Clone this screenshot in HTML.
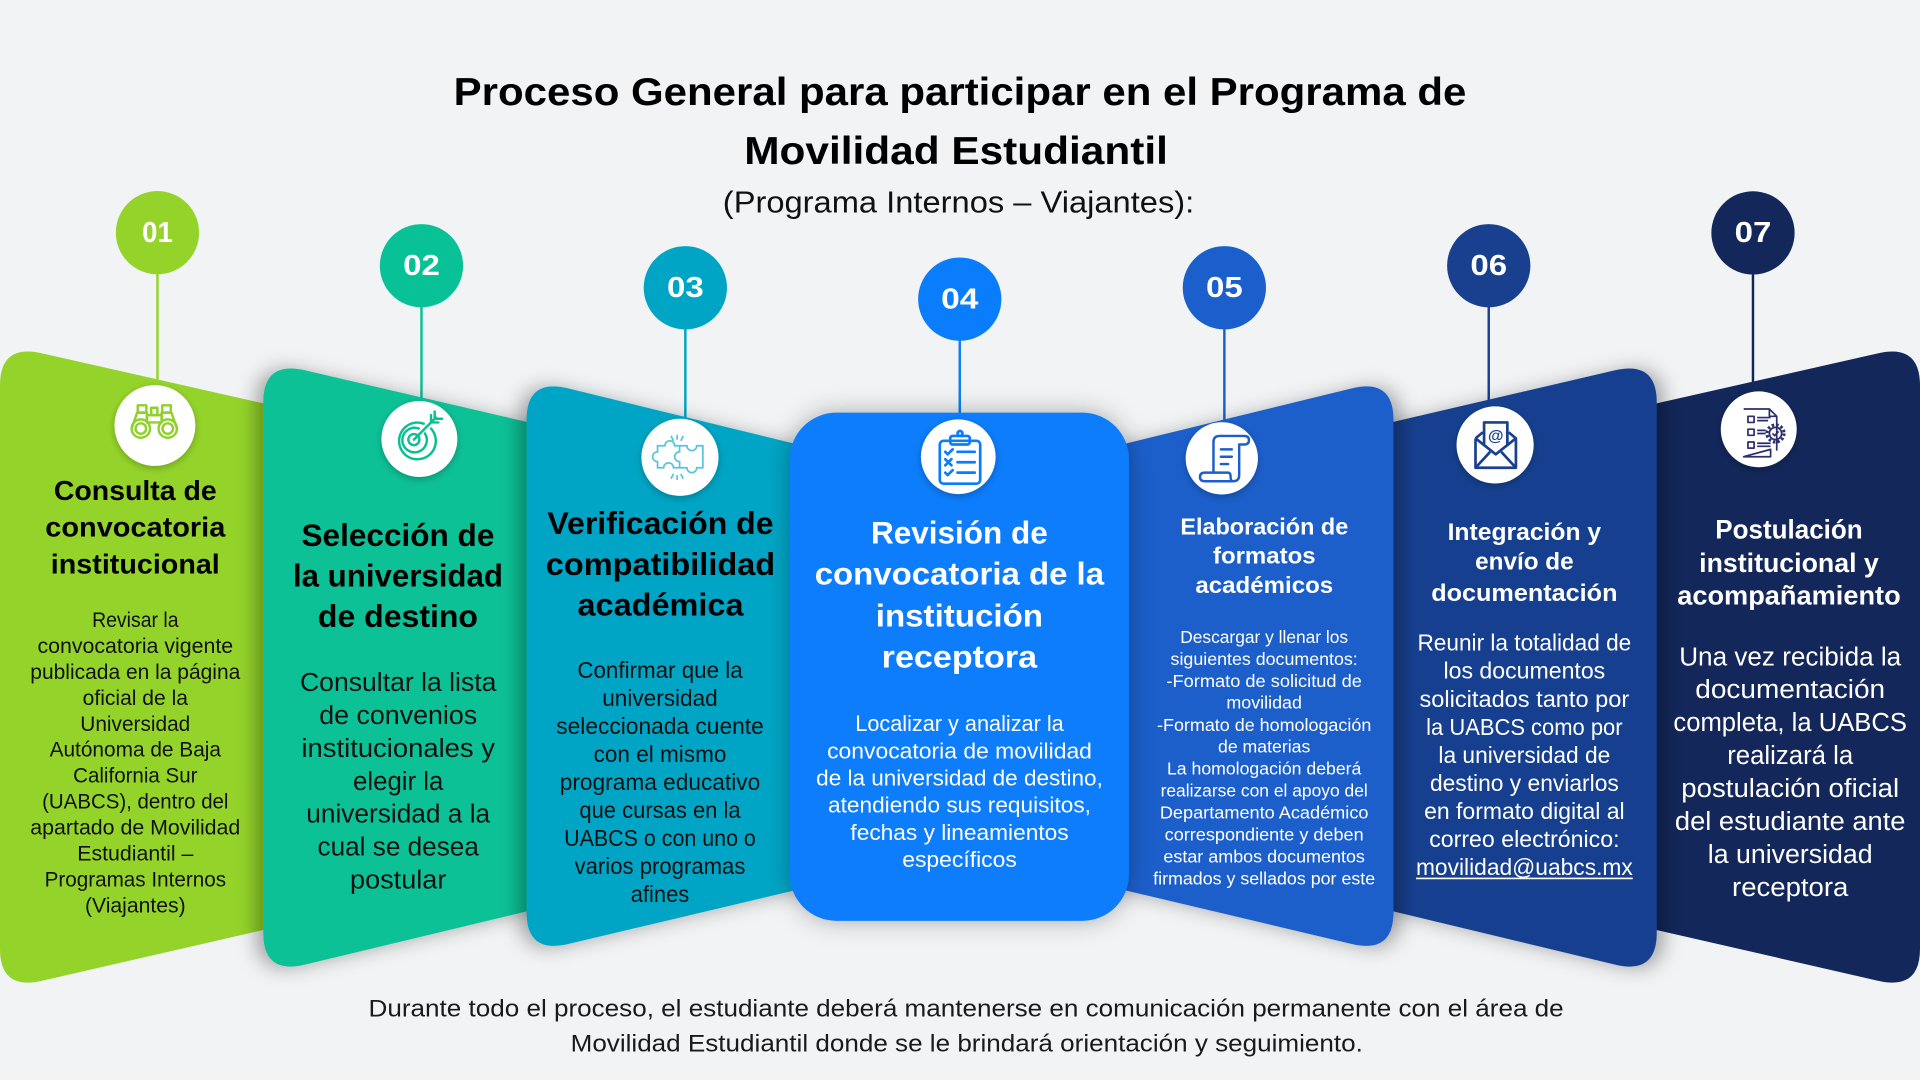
<!DOCTYPE html>
<html>
<head>
<meta charset="utf-8">
<style>
html,body{margin:0;padding:0;background:#f1f3f5;overflow:hidden;width:1920px;height:1080px}
svg{display:block}
</style>
</head>
<body>
<svg xmlns="http://www.w3.org/2000/svg" width="1920" height="1080" viewBox="0 0 1568 882" font-family="'Liberation Sans', Arial, sans-serif">
<defs>
<filter id="shL" x="-20%" y="-10%" width="140%" height="120%"><feDropShadow dx="-6" dy="1" stdDeviation="8" flood-color="#000" flood-opacity="0.33"/></filter>
<filter id="shR" x="-20%" y="-10%" width="140%" height="120%"><feDropShadow dx="6" dy="1" stdDeviation="8" flood-color="#000" flood-opacity="0.33"/></filter>
<filter id="shC" x="-30%" y="-20%" width="160%" height="140%"><feDropShadow dx="0" dy="0" stdDeviation="10" flood-color="#000" flood-opacity="0.3"/></filter>
<filter id="shI" x="-30%" y="-30%" width="160%" height="160%"><feDropShadow dx="0" dy="2" stdDeviation="3" flood-color="#000" flood-opacity="0.25"/></filter>
</defs>

<rect x="0" y="0" width="1568" height="882" fill="#f1f3f5"/>

<!-- Title -->
<g fill="#000" font-weight="bold" text-anchor="middle">
<text x="784" y="85.7" font-size="32" textLength="827" lengthAdjust="spacingAndGlyphs">Proceso General para participar en el Programa de</text>
<text x="780.8" y="134" font-size="32" textLength="346" lengthAdjust="spacingAndGlyphs">Movilidad Estudiantil</text>
</g>
<text x="782.8" y="173.5" font-size="25" text-anchor="middle" fill="#111" textLength="385" lengthAdjust="spacingAndGlyphs">(Programa Internos – Viajantes):</text>

<!-- Connector lines -->
<g stroke-width="2">
<line x1="128.6" y1="222" x2="128.6" y2="330" stroke="#94d42a"/>
<line x1="344.2" y1="249" x2="344.2" y2="345" stroke="#09c196"/>
<line x1="559.7" y1="267" x2="559.7" y2="362" stroke="#00a5c5"/>
<line x1="783.8" y1="276" x2="783.8" y2="360" stroke="#0a7dfc"/>
<line x1="999.9" y1="267" x2="999.9" y2="362" stroke="#1a5fcb"/>
<line x1="1215.8" y1="249" x2="1215.8" y2="345" stroke="#19408f"/>
<line x1="1431.6" y1="222" x2="1431.6" y2="330" stroke="#13275a"/>
</g>

<!-- Number circles -->
<g>
<circle cx="128.6" cy="190" r="34" fill="#94d42a"/>
<circle cx="344.2" cy="217" r="34" fill="#09c196"/>
<circle cx="559.7" cy="235" r="34" fill="#00a5c5"/>
<circle cx="783.8" cy="244.3" r="34" fill="#0a7dfc"/>
<circle cx="999.9" cy="235" r="34" fill="#1a5fcb"/>
<circle cx="1215.8" cy="217" r="34" fill="#19408f"/>
<circle cx="1431.6" cy="190.2" r="34" fill="#13275a"/>
</g>
<g fill="#fff" font-weight="bold" font-size="23.5" text-anchor="middle">
<text x="128.6" y="197.5" textLength="25" lengthAdjust="spacingAndGlyphs">01</text>
<text x="344.2" y="224.5" textLength="30" lengthAdjust="spacingAndGlyphs">02</text>
<text x="559.7" y="242.5" textLength="30" lengthAdjust="spacingAndGlyphs">03</text>
<text x="783.8" y="251.8" textLength="30.5" lengthAdjust="spacingAndGlyphs">04</text>
<text x="999.9" y="242.5" textLength="30" lengthAdjust="spacingAndGlyphs">05</text>
<text x="1215.8" y="224.5" textLength="30" lengthAdjust="spacingAndGlyphs">06</text>
<text x="1431.6" y="197.7" textLength="30" lengthAdjust="spacingAndGlyphs">07</text>
</g>

<!-- Panels -->
<path d="M0,314.8 Q0,280.8 34,288.5 L250,337.3 L250,751.5 L34,801 Q0,808.8 0,774.8 Z" fill="#94d42a"/>
<path d="M1568,314.8 Q1568,280.8 1534,288.5 L1318,337.3 L1318,751.5 L1534,801 Q1568,808.8 1568,774.8 Z" fill="#13275a"/>
<path d="M215,328.5 Q215,294.5 249,302.4 L465,352.7 L465,735.9 L249,787.8 Q215,796 215,762 Z" fill="#09c196" filter="url(#shL)"/>
<path d="M1353,328.5 Q1353,294.5 1319,302.4 L1103,352.7 L1103,735.9 L1319,787.8 Q1353,796 1353,762 Z" fill="#19408f" filter="url(#shR)"/>
<path d="M430,342.9 Q430,308.9 464,317.2 L680,369.9 L680,719.8 L464,770.9 Q430,779 430,745 Z" fill="#00a5c5" filter="url(#shL)"/>
<path d="M1138,342.9 Q1138,308.9 1104,317.2 L888,369.9 L888,719.8 L1104,770.9 Q1138,779 1138,745 Z" fill="#1a5fcb" filter="url(#shR)"/>
<rect x="645" y="337" width="277" height="415" rx="38" ry="38" fill="#0a7dfc" filter="url(#shC)"/>

<!-- Icon circles -->
<g fill="#fff" filter="url(#shI)">
<circle cx="126.5" cy="347.5" r="33"/>
<circle cx="342.5" cy="358.5" r="31"/>
<circle cx="555.3" cy="373.5" r="31.5"/>
<circle cx="782.6" cy="373" r="30.5"/>
<circle cx="997.8" cy="374.3" r="29.5"/>
<circle cx="1221" cy="363.4" r="31.5"/>
<circle cx="1436.3" cy="350.6" r="31"/>
</g>

<!-- Icon 1 binoculars -->
<g fill="none" stroke="#8fd12a" stroke-width="2" stroke-linejoin="round">
<circle cx="115" cy="350" r="7.5"/><circle cx="115" cy="350" r="4.3"/>
<circle cx="137" cy="350" r="7.5"/><circle cx="137" cy="350" r="4.3"/>
<path d="M107.5,350 L112,337 H120 V343 M144.5,350 L140,337 H132 V343"/>
<rect x="112.5" y="331" width="7" height="6"/>
<rect x="132.5" y="331" width="7" height="6"/>
<rect x="120" y="339" width="12" height="6"/>
<rect x="123.5" y="333" width="5" height="6"/>
</g>

<!-- Icon 2 target -->
<g fill="none" stroke="#0bbf94" stroke-width="2" stroke-linecap="round">
<path d="M352,350 A15,15 0 1 1 346,346"/>
<path d="M347,354 A10,10 0 1 1 342,350"/>
<circle cx="338" cy="359" r="4.5"/>
<path d="M338,359 L356,341"/>
<path d="M352,339 L352,345 L358,345 M355,336 L355,342 L361,342"/>
</g>

<!-- Icon 3 puzzle -->
<g fill="none" stroke="#58c4dd" stroke-width="1.4">
<path d="M537,364 H543 a4,4 0 1 1 8,0 H555 V369 a4,4 0 1 0 0,8 V382 H550 a4,4 0 1 0 -8,0 H537 V377 a4,4 0 1 1 0,-8 Z"/>
<path d="M555,364 H561 a4,4 0 1 0 8,0 H574 V382 H569 a4,4 0 1 1 -8,0 H555"/>
<path d="M553,355 V359 M548,356 L550,360 M558,356 L556,360 M553,388 V392 M548,391 L550,387 M558,391 L556,387"/>
</g>

<!-- Icon 4 clipboard -->
<g fill="none" stroke="#0a7dfc" stroke-width="2.2" stroke-linecap="round" stroke-linejoin="round">
<rect x="767.5" y="360" width="33" height="35" rx="3"/>
<rect x="776" y="356" width="16" height="7" rx="2"/>
<circle cx="784" cy="354" r="2"/>
<path d="M772,369 l2,2 l4,-4 M772,375 l5,5 M777,375 l-5,5 M772,386 l2,2 l4,-4"/>
<path d="M782,369 H796 M782,377.5 H796 M782,386 H796"/>
</g>

<!-- Icon 5 scroll -->
<g fill="none" stroke="#1a5fcb" stroke-width="2" stroke-linejoin="round" stroke-linecap="round">
<path d="M991,386 V361 q0,-5 5,-5 H1016 q4,0 4,3.5 q0,3.5 -4,3.5 H1012 V388 q0,5 -5,5 H984 q-4,0 -4,-3.5 q0,-3.5 4,-3.5 H1003 q2,0 2,3.5 q0,3.5 2,3.5"/>
<path d="M997,367 H1006 M997,373 H1006 M997,379 H1003"/>
</g>

<!-- Icon 6 envelope -->
<g fill="none" stroke="#19408f" stroke-width="2.2" stroke-linejoin="round">
<path d="M1212,364 V345 H1231 V364"/>
<path d="M1205,358 V382 H1238 V358 L1232,353 M1205,358 L1211,353"/>
<path d="M1205,358 L1221.5,371 L1238,358 M1205,382 L1217,369 M1238,382 L1226,369"/>
</g>
<text x="1221.5" y="360" font-size="13" font-weight="bold" fill="#19408f" text-anchor="middle">@</text>

<!-- Icon 7 doc with gear -->
<g fill="none" stroke="#2b2f6e" stroke-width="1.4" stroke-linejoin="round">
<path d="M1424,334 H1445 L1451,340 V368 M1446,367 V373 H1424 Z"/>
<path d="M1445,334 V340 H1451"/>
<rect x="1427.5" y="340" width="5" height="5"/>
<rect x="1427.5" y="350.5" width="5" height="5"/>
<rect x="1427.5" y="361" width="5" height="5"/>
<path d="M1435,341 H1446 M1435,343.5 H1444 M1435,351.5 H1442 M1435,354 H1442 M1435,362 H1446 M1435,364.5 H1446"/>
<circle cx="1450" cy="354" r="5"/>
<circle cx="1450" cy="354" r="7" stroke-width="2.5" stroke-dasharray="2 1.7"/>
<path d="M1447.5,354 l1.8,1.8 l3.2,-3.5"/>
</g>

<!-- Panel 1 text -->
<g fill="#000" font-weight="bold" font-size="23" text-anchor="middle">
<text x="110.5" y="408.4" textLength="133" lengthAdjust="spacingAndGlyphs">Consulta de</text>
<text x="110.5" y="438.3" textLength="147" lengthAdjust="spacingAndGlyphs">convocatoria</text>
<text x="110.5" y="468.2" textLength="138" lengthAdjust="spacingAndGlyphs">institucional</text>
</g>
<g fill="#111" font-size="17" text-anchor="middle">
<text x="110.5" y="512" textLength="70.6" lengthAdjust="spacingAndGlyphs">Revisar la</text>
<text x="110.5" y="533.2" textLength="159.8" lengthAdjust="spacingAndGlyphs">convocatoria vigente</text>
<text x="110.5" y="554.4" textLength="171.5" lengthAdjust="spacingAndGlyphs">publicada en la página</text>
<text x="110.5" y="575.6" textLength="86" lengthAdjust="spacingAndGlyphs">oficial de la</text>
<text x="110.5" y="596.8" textLength="89.8" lengthAdjust="spacingAndGlyphs">Universidad</text>
<text x="110.5" y="618" textLength="140" lengthAdjust="spacingAndGlyphs">Autónoma de Baja</text>
<text x="110.5" y="639.2" textLength="101.5" lengthAdjust="spacingAndGlyphs">California Sur</text>
<text x="110.5" y="660.4" textLength="152.2" lengthAdjust="spacingAndGlyphs">(UABCS), dentro del</text>
<text x="110.5" y="681.6" textLength="171.5" lengthAdjust="spacingAndGlyphs">apartado de Movilidad</text>
<text x="110.5" y="702.8" textLength="94.8" lengthAdjust="spacingAndGlyphs">Estudiantil –</text>
<text x="110.5" y="724" textLength="148.2" lengthAdjust="spacingAndGlyphs">Programas Internos</text>
<text x="110.5" y="745.2" textLength="82.2" lengthAdjust="spacingAndGlyphs">(Viajantes)</text>
</g>

<!-- Panel 2 text -->
<g fill="#000" font-weight="bold" font-size="25.5" text-anchor="middle">
<text x="325" y="446" textLength="157.5" lengthAdjust="spacingAndGlyphs">Selección de</text>
<text x="325" y="478.9" textLength="171.5" lengthAdjust="spacingAndGlyphs">la universidad</text>
<text x="325" y="512.2" textLength="130.7" lengthAdjust="spacingAndGlyphs">de destino</text>
</g>
<g fill="#111" font-size="21.5" text-anchor="middle">
<text x="325.2" y="564.3" textLength="160.4" lengthAdjust="spacingAndGlyphs">Consultar la lista</text>
<text x="325.2" y="591.2" textLength="129" lengthAdjust="spacingAndGlyphs">de convenios</text>
<text x="325.2" y="618.1" textLength="158" lengthAdjust="spacingAndGlyphs">institucionales y</text>
<text x="325.2" y="645" textLength="73.8" lengthAdjust="spacingAndGlyphs">elegir la</text>
<text x="325.2" y="671.9" textLength="150.2" lengthAdjust="spacingAndGlyphs">universidad a la</text>
<text x="325.2" y="698.8" textLength="131.8" lengthAdjust="spacingAndGlyphs">cual se desea</text>
<text x="325.2" y="725.7" textLength="78.7" lengthAdjust="spacingAndGlyphs">postular</text>
</g>

<!-- Panel 3 text -->
<g fill="#000" font-weight="bold" font-size="25.5" text-anchor="middle">
<text x="539.4" y="436" textLength="184.7" lengthAdjust="spacingAndGlyphs">Verificación de</text>
<text x="539.4" y="469.5" textLength="187.3" lengthAdjust="spacingAndGlyphs">compatibilidad</text>
<text x="539.4" y="502.7" textLength="135.6" lengthAdjust="spacingAndGlyphs">académica</text>
</g>
<g fill="#111" font-size="18.5" text-anchor="middle">
<text x="539" y="553.5" textLength="135" lengthAdjust="spacingAndGlyphs">Confirmar que la</text>
<text x="539" y="576.4" textLength="94.3" lengthAdjust="spacingAndGlyphs">universidad</text>
<text x="539" y="599.3" textLength="169.5" lengthAdjust="spacingAndGlyphs">seleccionada cuente</text>
<text x="539" y="622.2" textLength="108.5" lengthAdjust="spacingAndGlyphs">con el mismo</text>
<text x="539" y="645.1" textLength="163.7" lengthAdjust="spacingAndGlyphs">programa educativo</text>
<text x="539" y="668" textLength="131.7" lengthAdjust="spacingAndGlyphs">que cursas en la</text>
<text x="539" y="690.9" textLength="156.6" lengthAdjust="spacingAndGlyphs">UABCS o con uno o</text>
<text x="539" y="713.8" textLength="139.5" lengthAdjust="spacingAndGlyphs">varios programas</text>
<text x="539" y="736.7" textLength="47.8" lengthAdjust="spacingAndGlyphs">afines</text>
</g>

<!-- Panel 4 text -->
<g fill="#fff" font-weight="bold" font-size="26" text-anchor="middle">
<text x="783.5" y="443.7" textLength="144.4" lengthAdjust="spacingAndGlyphs">Revisión de</text>
<text x="783.5" y="477.4" textLength="236.3" lengthAdjust="spacingAndGlyphs">convocatoria de la</text>
<text x="783.5" y="511.6" textLength="136.6" lengthAdjust="spacingAndGlyphs">institución</text>
<text x="783.5" y="545.3" textLength="126.9" lengthAdjust="spacingAndGlyphs">receptora</text>
</g>
<g fill="#fff" font-size="18" text-anchor="middle">
<text x="783.6" y="597.1" textLength="170.2" lengthAdjust="spacingAndGlyphs">Localizar y analizar la</text>
<text x="783.6" y="619.3" textLength="216.3" lengthAdjust="spacingAndGlyphs">convocatoria de movilidad</text>
<text x="783.6" y="641.5" textLength="234.1" lengthAdjust="spacingAndGlyphs">de la universidad de destino,</text>
<text x="783.6" y="663.7" textLength="214.7" lengthAdjust="spacingAndGlyphs">atendiendo sus requisitos,</text>
<text x="783.6" y="685.9" textLength="178.2" lengthAdjust="spacingAndGlyphs">fechas y lineamientos</text>
<text x="783.6" y="708.1" textLength="93.6" lengthAdjust="spacingAndGlyphs">específicos</text>
</g>

<!-- Panel 5 text -->
<g fill="#fff" font-weight="bold" font-size="19" text-anchor="middle">
<text x="1032.5" y="436.6" textLength="137.1" lengthAdjust="spacingAndGlyphs">Elaboración de</text>
<text x="1032.5" y="460" textLength="83.8" lengthAdjust="spacingAndGlyphs">formatos</text>
<text x="1032.5" y="484.4" textLength="112.5" lengthAdjust="spacingAndGlyphs">académicos</text>
</g>
<g fill="#fff" font-size="14.5" text-anchor="middle">
<text x="1032.4" y="525" textLength="137.1" lengthAdjust="spacingAndGlyphs">Descargar y llenar los</text>
<text x="1032.4" y="542.9" textLength="152.9" lengthAdjust="spacingAndGlyphs">siguientes documentos:</text>
<text x="1032.4" y="560.9" textLength="159.6" lengthAdjust="spacingAndGlyphs">-Formato de solicitud de</text>
<text x="1032.4" y="578.8" textLength="61.7" lengthAdjust="spacingAndGlyphs">movilidad</text>
<text x="1032.4" y="596.8" textLength="175" lengthAdjust="spacingAndGlyphs">-Formato de homologación</text>
<text x="1032.4" y="614.7" textLength="75.4" lengthAdjust="spacingAndGlyphs">de materias</text>
<text x="1032.4" y="632.6" textLength="158.8" lengthAdjust="spacingAndGlyphs">La homologación deberá</text>
<text x="1032.4" y="650.6" textLength="169.2" lengthAdjust="spacingAndGlyphs">realizarse con el apoyo del</text>
<text x="1032.4" y="668.5" textLength="170.4" lengthAdjust="spacingAndGlyphs">Departamento Académico</text>
<text x="1032.4" y="686.5" textLength="162.5" lengthAdjust="spacingAndGlyphs">correspondiente y deben</text>
<text x="1032.4" y="704.4" textLength="164.6" lengthAdjust="spacingAndGlyphs">estar ambos documentos</text>
<text x="1032.4" y="722.3" textLength="181.3" lengthAdjust="spacingAndGlyphs">firmados y sellados por este</text>
</g>

<!-- Panel 6 text -->
<g fill="#fff" font-weight="bold" font-size="20" text-anchor="middle">
<text x="1244.9" y="440.9" textLength="125.4" lengthAdjust="spacingAndGlyphs">Integración y</text>
<text x="1244.9" y="465.2" textLength="80.4" lengthAdjust="spacingAndGlyphs">envío de</text>
<text x="1244.9" y="490.8" textLength="152.1" lengthAdjust="spacingAndGlyphs">documentación</text>
</g>
<g fill="#fff" font-size="18.5" text-anchor="middle">
<text x="1244.9" y="531.4" textLength="174.6" lengthAdjust="spacingAndGlyphs">Reunir la totalidad de</text>
<text x="1244.9" y="554.3" textLength="132.1" lengthAdjust="spacingAndGlyphs">los documentos</text>
<text x="1244.9" y="577.2" textLength="171.3" lengthAdjust="spacingAndGlyphs">solicitados tanto por</text>
<text x="1244.9" y="600.1" textLength="160.4" lengthAdjust="spacingAndGlyphs">la UABCS como por</text>
<text x="1244.9" y="623" textLength="140.4" lengthAdjust="spacingAndGlyphs">la universidad de</text>
<text x="1244.9" y="645.9" textLength="154.2" lengthAdjust="spacingAndGlyphs">destino y enviarlos</text>
<text x="1244.9" y="668.8" textLength="163.8" lengthAdjust="spacingAndGlyphs">en formato digital al</text>
<text x="1244.9" y="691.7" textLength="155.4" lengthAdjust="spacingAndGlyphs">correo electrónico:</text>
<text x="1244.9" y="714.6" textLength="177.1" lengthAdjust="spacingAndGlyphs">movilidad@uabcs.mx</text>
</g>
<line x1="1156.4" y1="717.4" x2="1333.4" y2="717.4" stroke="#fff" stroke-width="1.3"/>

<!-- Panel 7 text -->
<g fill="#fff" font-weight="bold" font-size="22" text-anchor="middle">
<text x="1461" y="439.6" textLength="120.4" lengthAdjust="spacingAndGlyphs">Postulación</text>
<text x="1461" y="467.3" textLength="146.7" lengthAdjust="spacingAndGlyphs">institucional y</text>
<text x="1461" y="493.8" textLength="182.5" lengthAdjust="spacingAndGlyphs">acompañamiento</text>
</g>
<g fill="#fff" font-size="21" text-anchor="middle">
<text x="1462" y="543.3" textLength="181.3" lengthAdjust="spacingAndGlyphs">Una vez recibida la</text>
<text x="1462" y="570.2" textLength="155" lengthAdjust="spacingAndGlyphs">documentación</text>
<text x="1462" y="597.1" textLength="190.8" lengthAdjust="spacingAndGlyphs">completa, la UABCS</text>
<text x="1462" y="624" textLength="102.9" lengthAdjust="spacingAndGlyphs">realizará la</text>
<text x="1462" y="650.9" textLength="177.9" lengthAdjust="spacingAndGlyphs">postulación oficial</text>
<text x="1462" y="677.8" textLength="188.3" lengthAdjust="spacingAndGlyphs">del estudiante ante</text>
<text x="1462" y="704.7" textLength="134.6" lengthAdjust="spacingAndGlyphs">la universidad</text>
<text x="1462" y="731.6" textLength="95" lengthAdjust="spacingAndGlyphs">receptora</text>
</g>

<!-- Footer -->
<g fill="#1a1a1a" font-size="19.5" text-anchor="middle">
<text x="789" y="830.3" textLength="976" lengthAdjust="spacingAndGlyphs">Durante todo el proceso, el estudiante deberá mantenerse en comunicación permanente con el área de</text>
<text x="789.5" y="858.8" textLength="647" lengthAdjust="spacingAndGlyphs">Movilidad Estudiantil donde se le brindará orientación y seguimiento.</text>
</g>
</svg>
</body>
</html>
